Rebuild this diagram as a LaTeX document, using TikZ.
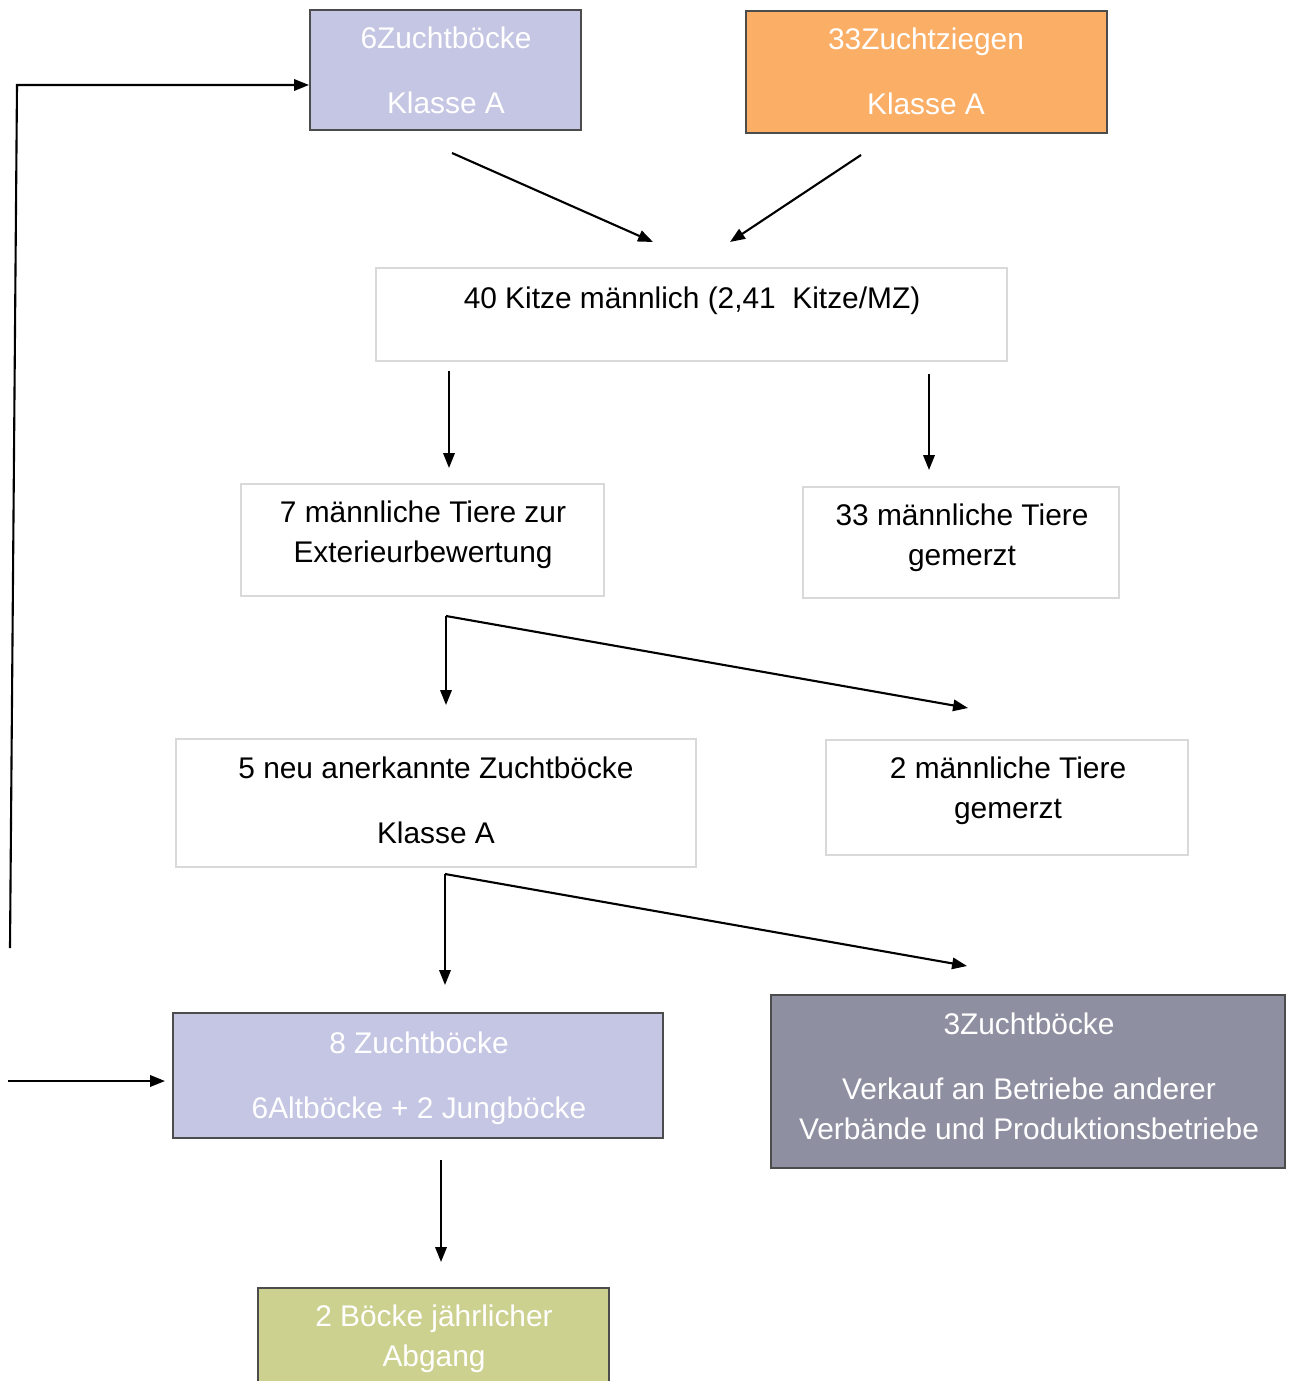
\documentclass[tikz,border=0pt]{standalone}
\usepackage{fontspec}
\setmainfont{Liberation Sans}
\usetikzlibrary{arrows.meta,positioning}
\definecolor{lavbox}{HTML}{C5C6E3}
\definecolor{orabox}{HTML}{FBAE66}
\definecolor{grybox}{HTML}{8E8FA1}
\definecolor{olvbox}{HTML}{CDD18F}
\tikzset{cbox/.style={draw=black!70,line width=1.2pt,inner sep=0pt},
  wbox/.style={draw=black!15,line width=1.2pt,fill=white,inner sep=0pt},
  wtext/.style={text=white,align=center,inner sep=0pt,font=\fontsize{17}{22.7}\selectfont},
  btext/.style={text=black,align=center,inner sep=0pt,font=\fontsize{17}{22.7}\selectfont},
  flow/.style={line width=1.2pt,-{Triangle[length=8.5pt,width=6.5pt]}},}

\begin{document}
\begin{tikzpicture}[x=0.02cm,y=-0.02cm]
    \clip (0,0) rectangle (1296,1381);

    % boxes
    \node[cbox,fill=lavbox,minimum width=5.42cm,minimum height=2.4cm] (zb6) at (445.5,70) {};
    \node[cbox,fill=orabox,minimum width=7.22cm,minimum height=2.44cm] (zz33) at (926.5,72) {};
    \node[wbox,minimum width=12.62cm,minimum height=1.86cm] (kitze) at (691.5,314.5) {};
    \node[wbox,minimum width=7.26cm,minimum height=2.24cm] (m7) at (422.5,540) {};
    \node[wbox,minimum width=6.32cm,minimum height=2.22cm] (m33) at (961,542.5) {};
    \node[wbox,minimum width=10.4cm,minimum height=2.56cm] (neu5) at (436,803) {};
    \node[wbox,minimum width=7.24cm,minimum height=2.3cm] (m2) at (1007,797.5) {};
    \node[cbox,fill=lavbox,minimum width=9.8cm,minimum height=2.5cm] (zb8) at (418,1075.5) {};
    \node[cbox,fill=grybox,minimum width=10.28cm,minimum height=3.46cm] (zb3) at (1028,1081.5) {};
    \node[cbox,fill=olvbox,minimum width=7.02cm,minimum height=2.24cm] (abg) at (433.5,1344) {};

    % texts
    \node[wtext] (zb6t) at (446,70) {6Zuchtböcke\\[0.5cm]Klasse A};
    \node[wtext] (zz33t) at (926,71) {33Zuchtziegen\\[0.5cm]Klasse A};
    \node[btext] (kitzet) at (692,301) {40 Kitze männlich (2,41\ \ Kitze/MZ)};
    \node[btext] (m7t) at (423,535) {7 männliche Tiere zur\\Exterieurbewertung};
    \node[btext] (m33t) at (962,538) {33 männliche Tiere\\gemerzt};
    \node[btext] (neu5t) at (436,800) {5 neu anerkannte Zuchtböcke\\[0.5cm]Klasse A};
    \node[btext] (m2t) at (1008,791) {2 männliche Tiere\\gemerzt};
    \node[wtext] (zb8t) at (419,1078) {8 Zuchtböcke\\[0.5cm]6Altböcke + 2 Jungböcke};
    \node[wtext] (zb3t) at (1029,1076) {3Zuchtböcke\\[0.5cm]Verkauf an Betriebe anderer\\Verbände und Produktionsbetriebe};
    \node[wtext] (abgt) at (434,1339) {2 Böcke jährlicher\\Abgang};

    % arrow ends
    \coordinate (a1s) at (452,153);  \coordinate (a1e) at (653,242);
    \coordinate (a2s) at (861,155);  \coordinate (a2e) at (730,242);
    \coordinate (a3s) at (449,371);  \coordinate (a3e) at (449,468);
    \coordinate (a4s) at (929,374);  \coordinate (a4e) at (929,470);
    \coordinate (a5s) at (446,616);  \coordinate (a5e) at (446,705);
    \coordinate (a6e) at (968,708);
    \coordinate (a7s) at (445,874);  \coordinate (a7e) at (445,985);
    \coordinate (a8e) at (967,966);
    \coordinate (a9s) at (441,1160); \coordinate (a9e) at (441,1262);
    \coordinate (fb) at (10,948);    \coordinate (fbc) at (17,85);
    \coordinate (in8) at (8,1081);   \coordinate (in8e) at (165,1081);

    \draw[flow] (a1s) -- (a1e);
    \draw[flow] (a2s) -- (a2e);
    \draw[flow] (a3s) -- (a3e);
    \draw[flow] (a4s) -- (a4e);
    \draw[flow] (a5s) -- (a5e);
    \draw[flow] (a5s) -- (a6e);
    \draw[flow] (a7s) -- (a7e);
    \draw[flow] (a7s) -- (a8e);
    \draw[flow] (a9s) -- (a9e);
    \draw[flow] (fb) -- (fbc) -- ([yshift=-0.3cm]zb6.west);
    \draw[flow] (in8) -- (in8e);
\end{tikzpicture}
\end{document}
